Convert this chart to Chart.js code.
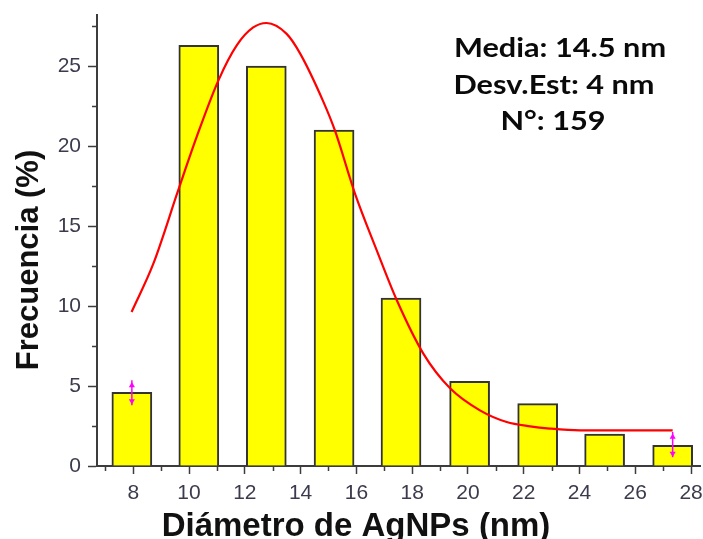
<!DOCTYPE html>
<html lang="es">
<head>
<meta charset="utf-8">
<title>Distribución de tamaño de AgNPs</title>
<script src="https://cdn.jsdelivr.net/npm/chart.js@4.4.1/dist/chart.umd.min.js"></script>
<style>
  html, body { margin: 0; padding: 0; background: #fff; }
  canvas { display: block; }
</style>
</head>
<body>
<canvas id="histChart" width="703" height="539"></canvas>
<script>
// Histograma: centro de cada clase (nm) y frecuencia (%)
const binCenters = [7.95, 10.35, 12.77, 15.2, 17.6, 20.06, 22.5, 24.9, 27.34];
const frequencies = [4.6, 26.3, 25.0, 21.0, 10.5, 5.3, 3.9, 2.0, 1.3];

// Curva de ajuste (leída punto a punto)
const fitX = [7.94, 8.72, 9.61, 10.27, 11.05, 11.71, 12.30, 12.78, 13.50, 13.98, 14.81, 15.23,
              15.95, 16.73, 17.45, 18.40, 19.36, 20.43, 21.39, 22.23, 22.94, 24.02, 26.17, 27.34];
const fitY = [9.63, 12.65, 17.23, 20.56, 24.1, 26.3, 27.42, 27.7, 27.02, 25.8, 22.8, 20.98,
              17.03, 13.48, 10.36, 7.03, 4.86, 3.48, 2.75, 2.48, 2.34, 2.23, 2.23, 2.23];

// Barras de error en la primera y la última clase
const errX = [7.95, 27.34];
const errLow = [3.8, 0.55];
const errMarkLow = [4.06, 0.78];
const errMarkHigh = [5.04, 1.81];
const errHigh = [5.36, 2.13];

// Marcas de los ejes
const xTicks = [8, 10, 12, 14, 16, 18, 20, 22, 24, 26, 28];
const xMinorTicks = [7, 9, 11, 13, 15, 17, 19, 21, 23, 25, 27];
const yTicks = [0, 5, 10, 15, 20, 25];
const yMinorTicks = [2.5, 7.5, 12.5, 17.5, 22.5, 27.5];

const xTitle = 'Diámetro de AgNPs (nm)';
const yTitle = 'Frecuencia (%)';
const statsLines = ['Media: 14.5 nm', 'Desv.Est: 4 nm', 'N°: 159'];

const axisColor = '#3c3c3c';
const tickFont = { family: "'Liberation Sans', Arial, sans-serif", size: 21 };

const errorSets = errX.map((x, i) => ({
    type: 'line',
    data: [
        { x: x, y: errLow[i] },
        { x: x, y: errMarkLow[i] },
        { x: x, y: errMarkHigh[i] },
        { x: x, y: errHigh[i] }
    ],
    borderColor: '#ff00ff',
    backgroundColor: '#ff00ff',
    borderWidth: 1.5,
    pointStyle: 'triangle',
    pointRadius: [0, 3.5, 3.5, 0],
    pointRotation: [0, 180, 0, 0],
    pointBorderWidth: 0,
    order: 1
}));

// Marcas menores, títulos de ejes y cuadro de estadísticas
const extrasPlugin = {
    id: 'extras',
    afterDraw(chart) {
        const ctx = chart.ctx;
        const xs = chart.scales.x;
        const ys = chart.scales.y;
        const area = chart.chartArea;

        ctx.save();
        ctx.strokeStyle = axisColor;
        ctx.lineWidth = 1.5;
        ctx.beginPath();
        xMinorTicks.forEach(v => {
            const px = Math.round(xs.getPixelForValue(v)) + 0.5;
            ctx.moveTo(px, area.bottom);
            ctx.lineTo(px, area.bottom + 5);
        });
        yMinorTicks.forEach(v => {
            const py = Math.round(ys.getPixelForValue(v)) + 0.5;
            ctx.moveTo(area.left - 5, py);
            ctx.lineTo(area.left, py);
        });
        ctx.stroke();

        ctx.fillStyle = '#111';
        ctx.textAlign = 'center';
        ctx.textBaseline = 'alphabetic';
        ctx.font = "bold 33px 'Liberation Sans', Arial, sans-serif";
        ctx.fillText(xTitle, 356, 536);

        ctx.save();
        ctx.translate(38, 260);
        ctx.rotate(-Math.PI / 2);
        ctx.font = "bold 31px 'Liberation Sans', Arial, sans-serif";
        ctx.fillText(yTitle, 0, 0);
        ctx.restore();

        // texto algo ensanchado en horizontal
        ctx.fillStyle = '#0a0a0a';
        ctx.font = "bold 26px Lato, 'Open Sans', sans-serif";
        const cx = [560, 554, 553];
        const by = [57, 94, 130];
        statsLines.forEach((t, i) => {
            ctx.save();
            ctx.translate(cx[i], by[i]);
            ctx.scale(1.18, 1);
            ctx.fillText(t, 0, 0);
            ctx.restore();
        });
        ctx.restore();
    }
};

new Chart(document.getElementById('histChart'), {
    type: 'bar',
    data: {
        datasets: [
            {
                type: 'bar',
                data: binCenters.map((x, i) => ({ x: x, y: frequencies[i] })),
                backgroundColor: '#ffff00',
                borderColor: '#333',
                borderWidth: 2,
                barThickness: 40,
                order: 3
            },
            {
                type: 'line',
                data: fitX.map((x, i) => ({ x: x, y: fitY[i] })),
                borderColor: '#ff0000',
                borderWidth: 2.2,
                pointRadius: 0,
                fill: false,
                cubicInterpolationMode: 'monotone',
                order: 2
            },
            ...errorSets
        ]
    },
    options: {
        responsive: false,
        animation: false,
        events: [],
        layout: { padding: { top: 15, right: 3, left: 0, bottom: 0 } },
        plugins: {
            legend: { display: false },
            tooltip: { enabled: false }
        },
        scales: {
            x: {
                type: 'linear',
                min: 6.7,
                max: 28.32,
                offset: false,
                grid: {
                    offset: false,
                    drawOnChartArea: false,
                    tickLength: 8,
                    tickColor: axisColor,
                    tickWidth: 1.5
                },
                border: { color: axisColor, width: 2 },
                ticks: { font: tickFont, color: '#3b3b4d', padding: 7, maxRotation: 0 },
                afterBuildTicks: s => { s.ticks = xTicks.map(v => ({ value: v })); },
                afterFit: s => { s.height = 73; s.paddingLeft = 0; s.paddingRight = 0; }
            },
            y: {
                min: 0,
                max: 28.2,
                grid: {
                    drawOnChartArea: false,
                    tickLength: 9,
                    tickColor: axisColor,
                    tickWidth: 1.5
                },
                border: { color: axisColor, width: 2 },
                ticks: { font: tickFont, color: '#3b3b4d', padding: 7 },
                afterBuildTicks: s => { s.ticks = yTicks.map(v => ({ value: v })); },
                afterFit: s => { s.width = 97; s.paddingTop = 0; s.paddingBottom = 0; }
            }
        }
    },
    plugins: [extrasPlugin]
});
</script>
</body>
</html>
